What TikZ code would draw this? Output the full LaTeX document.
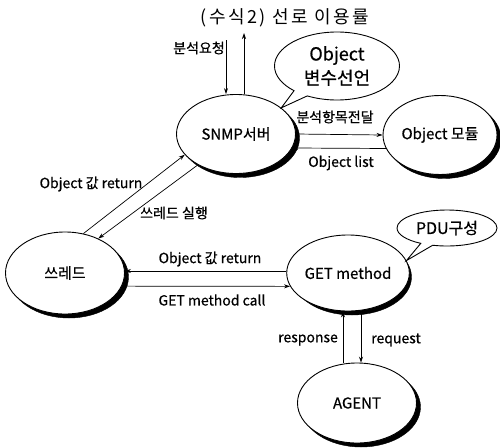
\documentclass[tikz,border=0pt]{standalone}
\usepackage{fontspec}
\setmainfont{Noto Sans CJK KR}[FakeBold=0.6]
\newfontfamily\titlefont{Noto Sans CJK KR}[LetterSpace=14]
\usetikzlibrary{shapes.geometric, shapes.callouts, arrows.meta}
\tikzstyle{bubble}=[ellipse, draw, line width=0.9pt, fill=white, inner sep=0pt,
  minimum width=119pt, minimum height=79pt, font=\fontsize{15}{17}\selectfont]
\tikzstyle{blot}=[ellipse, draw=black, fill=black, inner sep=0pt]
\tikzstyle{note}=[ellipse callout, draw, line width=0.9pt, fill=white,
  align=center, inner sep=0pt]
\tikzstyle{arrow}=[-{Stealth[length=6pt,width=4pt]}, line width=0.7pt]
\tikzstyle{lbl}=[font=\fontsize{14}{16}\selectfont, inner sep=0pt]

\begin{document}
\begin{tikzpicture}[x=1pt, y=-1pt]
  \useasboundingbox (0,0) rectangle (500,447);
  \node[font=\titlefont\fontsize{18}{20}\selectfont] (title) at (285,18) {(수식2)~선로~이용률};

  % shadows behind the ellipses
  \node[blot, minimum width=119pt, minimum height=79pt] (snmpsh) at (240,138) {};
  \node[blot, minimum width=114pt, minimum height=79pt] (objmodsh) at (444,139) {};
  \node[blot, minimum width=119pt, minimum height=82pt] (threadsh) at (69,277) {};
  \node[blot, minimum width=119pt, minimum height=76pt] (getsh) at (352,277) {};
  \node[blot, minimum width=119pt, minimum height=80pt] (agentsh) at (361,407) {};

  \node[bubble] (snmp) at (236,134) {SNMP서버};
  \node[bubble, minimum width=114pt] (objmod) at (440,135) {Object 모듈};
  \node[bubble, minimum height=82pt] (thread) at (65,273) {쓰레드};
  \node[bubble, minimum height=76pt] (get) at (348,273) {GET method};
  \node[bubble, minimum height=80pt] (agent) at (357,403) {AGENT};

  \node[note, minimum width=125pt, minimum height=68pt, font=\fontsize{18}{24}\selectfont,
    callout absolute pointer={(snmp.30)}] (objnote) at (337,66) {Object\\변수선언};
  \node[note, minimum width=100pt, minimum height=36pt, font=\fontsize{16}{18}\selectfont,
    callout absolute pointer={(get.12)}] (pdunote) at (447,228) {PDU구성};

  \coordinate (reqin) at (226,40);
  \coordinate (reqout) at (244,33);

  % SNMP server requests
  \draw[arrow] (reqin) -- (reqin |- snmp.north);
  \draw[arrow] (reqout |- snmp.north) -- (reqout);
  \node[lbl] (reqlbl) at (199,48) {분석요청};

  \draw[arrow] (snmp.east) -- (objmod.west);
  \draw[arrow] (objmod.194) -- (snmp.-14);
  \node[lbl] (passlbl) at (335,117) {분석항목전달};
  \node[lbl] (listlbl) at (341,163) {Object list};

  \draw[arrow] (thread.65) -- (snmp.202);
  \draw[arrow] (snmp.219) -- (thread.46);
  \node[lbl] (retlbl) at (91,184) {Object 값 return};
  \node[lbl] (runlbl) at (174,213) {쓰레드 실행};

  \draw[arrow] ([yshift=2pt]get.west) -- ([yshift=2pt]thread.east);
  \draw[arrow] (thread.-13) -- (get.193);
  \node[lbl] (getretlbl) at (210,259) {Object 값 return};
  \node[lbl] (calllbl) at (212,300) {GET method call};

  \draw[arrow] ([xshift=-14pt]agent.north) -- ([xshift=-14pt]agent.north |- get.south);
  \draw[arrow] ([xshift=4pt]agent.north |- get.south) -- ([xshift=4pt]agent.north);
  \node[lbl] (resplbl) at (308,340) {response};
  \node[lbl] (reqstlbl) at (396,340) {request};
\end{tikzpicture}
\end{document}
